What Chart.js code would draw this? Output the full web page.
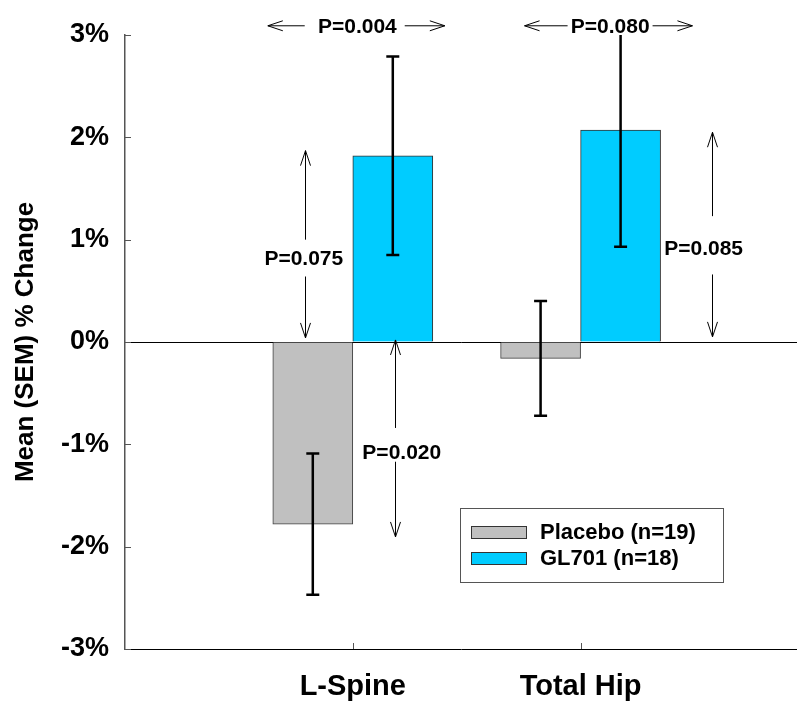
<!DOCTYPE html>
<html lang="en">
<head>
<meta charset="UTF-8">
<title>Mean (SEM) % Change</title>
<script src="https://cdn.jsdelivr.net/npm/chart.js"></script>
<style>
    html, body { margin: 0; padding: 0; background: #fff; overflow: hidden; }
    canvas { display: block; }
</style>
</head>
<body>
<canvas id="chart" width="797" height="702"></canvas>
<script>
const categories = ["L-Spine", "Total Hip"];
const seriesNames = ["Placebo (n=19)", "GL701 (n=18)"];
const placeboMean = [-1.78, -0.16];
const placeboSem = [0.69, 0.56];
const gl701Mean = [1.82, 2.07];
const gl701Sem = [0.97, 1.14];
const yTicks = [-3, -2, -1, 0, 1, 2, 3];
const pLabels = ["P=0.004", "P=0.080", "P=0.075", "P=0.020", "P=0.085"];

// where each p-value arrow sits, in axis units
const hArrows = [
    { label: 0, y: 3.09, from: 0.627, to: 1.404, gapFrom: 0.789, gapTo: 1.228, tx: 1.02 },
    { label: 1, y: 3.09, from: 1.754, to: 2.491, gapFrom: 1.943, gapTo: 2.316, tx: 2.13 }
];
const vArrows = [
    { label: 2, x: 0.789, from: 1.87, to: 0.04, gapFrom: 1.0, gapTo: 0.64, tx: 0.785, ty: 0.82 },
    { label: 3, x: 1.184, from: 0.02, to: -1.905, gapFrom: -0.84, gapTo: -1.17, tx: 1.215, ty: -1.075 },
    { label: 4, x: 2.575, from: 2.05, to: 0.05, gapFrom: 1.23, gapTo: 0.66, tx: 2.54, ty: 0.92 }
];

const colors = ["#c0c0c0", "#00ccff"];
const textFont = "'Liberation Sans', Arial, sans-serif";

function head(ctx, x, y, dx, dy) {
    // open arrow head, (dx, dy) points back along the shaft
    const len = 15, half = 5;
    ctx.moveTo(x + dx * len - dy * half, y + dy * len + dx * half);
    ctx.lineTo(x, y);
    ctx.lineTo(x + dx * len + dy * half, y + dy * len - dx * half);
}

const decorations = {
    id: "decorations",
    afterDatasetsDraw(chart) {
        const { ctx, chartArea, scales: { y } } = chart;
        ctx.save();
        ctx.beginPath();
        ctx.rect(chartArea.left, chartArea.top, chartArea.right - chartArea.left, chartArea.bottom - chartArea.top);
        ctx.clip();
        ctx.strokeStyle = "#000";
        ctx.lineWidth = 2.5;
        [[placeboMean, placeboSem], [gl701Mean, gl701Sem]].forEach(([means, sems], d) => {
            chart.getDatasetMeta(d).data.forEach((bar, i) => {
                const hi = y.getPixelForValue(means[i] + sems[i]);
                const lo = y.getPixelForValue(means[i] - sems[i]);
                ctx.beginPath();
                ctx.moveTo(bar.x, hi); ctx.lineTo(bar.x, lo);
                ctx.moveTo(bar.x - 6.5, hi); ctx.lineTo(bar.x + 6.5, hi);
                ctx.moveTo(bar.x - 6.5, lo); ctx.lineTo(bar.x + 6.5, lo);
                ctx.stroke();
            });
        });
        ctx.restore();
    },
    afterDraw(chart) {
        const { ctx, chartArea, scales: { x, y } } = chart;
        ctx.save();

        // inner tick marks
        ctx.strokeStyle = "#555";
        ctx.lineWidth = 1;
        ctx.beginPath();
        yTicks.forEach(v => {
            const py = Math.round(y.getPixelForValue(v)) + 0.5;
            ctx.moveTo(chartArea.left, py); ctx.lineTo(chartArea.left + 6, py);
        });
        categories.forEach((c, i) => {
            const px = Math.round(x.getPixelForValue(i + 1)) + 0.5;
            ctx.moveTo(px, chartArea.bottom); ctx.lineTo(px, chartArea.bottom - 6);
        });
        ctx.stroke();

        // p-value arrows
        ctx.strokeStyle = "#000";
        ctx.fillStyle = "#000";
        ctx.lineWidth = 1;
        ctx.font = "bold 21px " + textFont;
        ctx.textAlign = "center";
        ctx.textBaseline = "middle";
        hArrows.forEach(a => {
            const py = y.getPixelForValue(a.y);
            const x1 = x.getPixelForValue(a.from), x2 = x.getPixelForValue(a.to);
            const g1 = x.getPixelForValue(a.gapFrom), g2 = x.getPixelForValue(a.gapTo);
            ctx.beginPath();
            ctx.moveTo(x1, py); ctx.lineTo(g1, py);
            ctx.moveTo(g2, py); ctx.lineTo(x2, py);
            head(ctx, x1, py, 1, 0);
            head(ctx, x2, py, -1, 0);
            ctx.stroke();
            ctx.fillText(pLabels[a.label], x.getPixelForValue(a.tx), py + 1);
        });
        vArrows.forEach(a => {
            const px = Math.round(x.getPixelForValue(a.x)) + 0.5;
            const y1 = y.getPixelForValue(a.from), y2 = y.getPixelForValue(a.to);
            const g1 = y.getPixelForValue(a.gapFrom), g2 = y.getPixelForValue(a.gapTo);
            ctx.beginPath();
            ctx.moveTo(px, y1); ctx.lineTo(px, g1);
            ctx.moveTo(px, g2); ctx.lineTo(px, y2);
            head(ctx, px, y1, 0, 1);
            head(ctx, px, y2, 0, -1);
            ctx.stroke();
            ctx.fillText(pLabels[a.label], x.getPixelForValue(a.tx), y.getPixelForValue(a.ty) + 1);
        });

        // legend box
        const lx = chartArea.left + 335, ly = chartArea.top + 473;
        ctx.fillStyle = "#fff";
        ctx.fillRect(lx, ly, 263, 74);
        ctx.strokeStyle = "#555";
        ctx.strokeRect(lx + 0.5, ly + 0.5, 263, 74);
        ctx.font = "bold 22px " + textFont;
        ctx.textAlign = "left";
        chart.data.datasets.forEach((ds, i) => {
            const cy = ly + 24 + i * 26;
            ctx.fillStyle = ds.backgroundColor;
            ctx.fillRect(lx + 11, cy - 6, 55, 12);
            ctx.strokeStyle = "#333";
            ctx.strokeRect(lx + 11.5, cy - 5.5, 55, 12);
            ctx.fillStyle = "#000";
            ctx.fillText(ds.label, lx + 80, cy + 1);
        });
        ctx.restore();
    }
};

new Chart(document.getElementById("chart"), {
    type: "bar",
    data: {
        datasets: [
            {
                label: seriesNames[0],
                data: placeboMean.map((v, i) => ({ x: i + 1, y: v })),
                backgroundColor: colors[0],
                borderColor: "#404040",
                borderWidth: 1
            },
            {
                label: seriesNames[1],
                data: gl701Mean.map((v, i) => ({ x: i + 1, y: v })),
                backgroundColor: colors[1],
                borderColor: "#333",
                borderWidth: 1
            }
        ]
    },
    options: {
        responsive: false,
        animation: false,
        barThickness: 80,
        layout: { padding: { top: 35, right: 0, bottom: 0, left: 0 } },
        plugins: {
            legend: { display: false },
            tooltip: { enabled: false }
        },
        scales: {
            x: {
                type: "linear",
                offset: false,
                min: 0,
                max: 2.95,
                grid: { display: false, drawTicks: false },
                border: { display: true, color: "#000", width: 1 },
                ticks: {
                    stepSize: 1,
                    includeBounds: false,
                    autoSkip: false,
                    maxRotation: 0,
                    padding: 21,
                    color: "#000",
                    font: { family: textFont, size: 29, weight: "bold" },
                    callback: v => categories[v - 1] || ""
                },
                afterFit: scale => { scale.height = 53; }
            },
            y: {
                min: yTicks[0],
                max: yTicks[yTicks.length - 1],
                grid: {
                    drawTicks: false,
                    color: c => c.tick && c.tick.value === 0 ? "#000" : "rgba(0,0,0,0)",
                    lineWidth: 1
                },
                border: { display: true, color: "#555", width: 1.5 },
                ticks: {
                    stepSize: 1,
                    padding: 16,
                    color: "#000",
                    font: { family: textFont, size: 27, weight: "bold" },
                    callback: v => v + "%"
                },
                title: {
                    display: true,
                    text: "Mean (SEM) % Change",
                    color: "#000",
                    padding: { top: 10, bottom: 0 },
                    font: { family: textFont, size: 26, weight: "bold" }
                },
                afterFit: scale => { scale.width = 125; }
            }
        }
    },
    plugins: [decorations]
});
</script>
</body>
</html>
